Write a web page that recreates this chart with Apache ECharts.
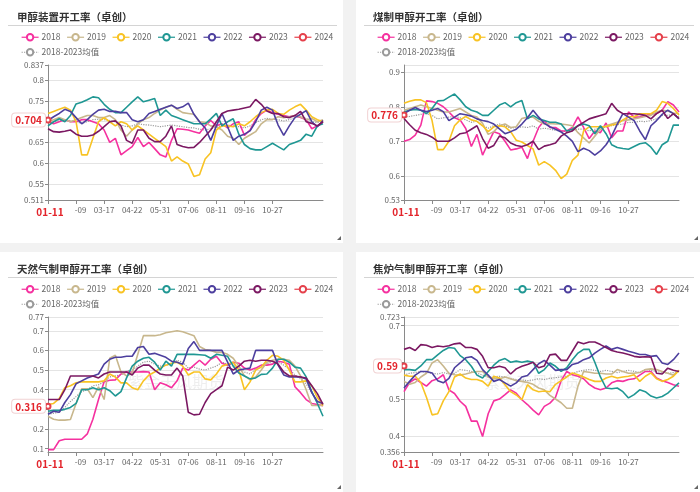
<!DOCTYPE html>
<html><head><meta charset="utf-8">
<script src="https://cdn.jsdelivr.net/npm/echarts@6/dist/echarts.min.js"></script>
<style>
html,body{margin:0;padding:0;background:#f2f2f2;width:700px;height:492px;overflow:hidden}
.card{position:absolute;background:#fff}
.chart{width:100%;height:100%}
.grip{position:absolute;right:2px;bottom:3px;width:0;height:0;border-left:4px solid transparent;border-bottom:4px solid #666}
</style></head><body>
<div class="card" style="left:0;top:0;width:343px;height:243px"><div id="c0" class="chart"></div><div class="grip"></div></div>
<div class="card" style="left:356px;top:0;width:344px;height:243px"><div id="c1" class="chart"></div><div class="grip"></div></div>
<div class="card" style="left:0;top:252px;width:343px;height:240px"><div id="c2" class="chart"></div><div class="grip"></div></div>
<div class="card" style="left:356px;top:252px;width:344px;height:240px"><div id="c3" class="chart"></div><div class="grip"></div></div>
<script>
const categories = ['01-11','01-17','01-22','01-28','02-03','02-09','02-16','02-23','03-02','03-09',
'03-17','03-24','03-31','04-07','04-14','04-22','04-29','05-06','05-13','05-20',
'05-31','06-07','06-14','06-21','06-28','07-06','07-13','07-20','07-27','08-03',
'08-11','08-18','08-25','09-01','09-08','09-16','09-23','09-30','10-13','10-20',
'10-27','11-03','11-10','11-17','11-24','12-01','12-08','12-15','12-22','12-29'];
const shownLabels = ['01-11','02-09','03-17','04-22','05-31','07-06','08-11','09-16','10-27'];
const years = ['2018','2019','2020','2021','2022','2023','2024'];
const avgName = '2018-2023均值';
const titles = ['甲醇装置开工率（卓创）','煤制甲醇开工率（卓创）','天然气制甲醇开工率（卓创）','焦炉气制甲醇开工率（卓创）'];
const yMins = [0.511, 0.53, 0.083, 0.356];
const yMaxs = [0.837, 0.921, 0.77, 0.723];
const latest2024 = [0.704, 0.776, 0.316, 0.59];

// Panel 1: 甲醇装置开工率
const p1_2018 = [.700,.695,.700,.705,.700,.700,.705,.705,.700,.695,
.680,.650,.660,.620,.630,.640,.662,.640,.650,.635,
.620,.615,.655,.683,.682,.680,.676,.672,.690,.703,
.690,.695,.685,.695,.700,.667,.680,.705,.720,.728,
.722,.718,.715,.712,.715,.710,.705,.683,.690,.700];
const p1_2019 = [.700,.705,.710,.705,.700,.705,.710,.715,.715,.710,
.710,.715,.705,.680,.665,.680,.695,.705,.710,.720,
.728,.735,.740,.730,.722,.720,.718,.700,.698,.690,
.688,.680,.665,.660,.645,.660,.668,.676,.695,.705,
.705,.712,.710,.712,.715,.712,.705,.708,.700,.705];
const p1_2020 = [.720,.725,.730,.735,.728,.700,.620,.620,.660,.700,
.710,.700,.690,.700,.695,.680,.690,.680,.670,.660,
.650,.640,.605,.615,.605,.598,.568,.572,.610,.625,
.680,.690,.690,.688,.695,.690,.700,.712,.722,.728,
.730,.720,.718,.728,.736,.742,.728,.712,.705,.700];
const p1_2021 = [.690,.700,.707,.700,.715,.743,.747,.753,.760,.758,
.742,.730,.722,.722,.735,.748,.760,.748,.752,.756,
.715,.728,.715,.710,.705,.700,.695,.695,.695,.707,
.720,.690,.700,.707,.670,.645,.635,.632,.632,.640,
.648,.640,.632,.645,.650,.655,.670,.665,.690,.695];
const p1_2022 = [.703,.712,.720,.730,.725,.710,.695,.705,.718,.728,
.730,.725,.725,.722,.722,.705,.700,.705,.720,.725,
.730,.735,.740,.732,.736,.745,.718,.700,.685,.655,
.690,.720,.688,.655,.665,.670,.678,.700,.728,.735,
.728,.692,.667,.690,.710,.718,.727,.700,.688,.703];
const p1_2023 = [.683,.676,.675,.677,.680,.670,.665,.665,.668,.677,
.688,.700,.702,.690,.655,.648,.680,.680,.660,.652,
.652,.665,.690,.645,.640,.637,.638,.650,.665,.680,
.700,.720,.726,.728,.730,.733,.736,.754,.742,.726,
.720,.720,.712,.710,.715,.725,.700,.696,.690,.700];
const p1_avg = [.698,.700,.703,.705,.703,.700,.696,.700,.705,.706,
.705,.703,.700,.692,.688,.690,.695,.693,.692,.690,
.688,.690,.692,.690,.688,.686,.685,.682,.680,.683,
.688,.690,.692,.690,.688,.685,.690,.698,.705,.708,
.706,.705,.702,.705,.710,.712,.708,.700,.698,.703];

// Panel 2: 煤制甲醇开工率
const p2_2018 = [.700,.705,.718,.747,.817,.815,.810,.800,.785,.768,
.762,.737,.685,.720,.660,.695,.728,.722,.700,.675,
.678,.683,.650,.700,.740,.760,.740,.740,.730,.730,
.740,.771,.740,.708,.730,.725,.753,.710,.730,.730,
.785,.770,.770,.775,.780,.780,.790,.815,.805,.785];
const p2_2019 = [.790,.795,.800,.805,.800,.795,.790,.785,.785,.790,
.795,.785,.775,.770,.752,.720,.728,.745,.750,.740,
.742,.766,.770,.770,.758,.750,.752,.750,.750,.748,
.745,.725,.710,.695,.715,.735,.745,.750,.755,.760,
.762,.765,.768,.772,.775,.785,.790,.788,.782,.780];
const p2_2020 = [.810,.816,.820,.820,.812,.760,.676,.676,.700,.745,
.762,.772,.762,.758,.745,.728,.742,.745,.742,.728,
.703,.698,.688,.678,.631,.641,.631,.616,.592,.605,
.645,.660,.730,.742,.742,.742,.742,.747,.750,.762,
.771,.771,.780,.780,.780,.790,.815,.810,.795,.776];
const p2_2021 = [.785,.790,.792,.790,.780,.795,.817,.818,.828,.837,
.820,.800,.790,.785,.775,.775,.790,.805,.812,.800,
.812,.818,.765,.775,.765,.760,.755,.755,.750,.730,
.735,.745,.750,.745,.722,.745,.722,.690,.682,.679,
.677,.685,.693,.696,.683,.662,.690,.700,.747,.747];
const p2_2022 = [.780,.790,.798,.790,.786,.790,.795,.786,.760,.770,
.780,.777,.773,.765,.760,.757,.750,.736,.722,.728,
.735,.750,.768,.790,.770,.752,.742,.735,.727,.715,
.700,.670,.680,.673,.660,.672,.690,.715,.750,.780,
.770,.760,.730,.705,.745,.760,.778,.790,.780,.765];
const p2_2023 = [.766,.748,.732,.725,.720,.712,.700,.700,.700,.710,
.722,.725,.735,.745,.708,.680,.688,.715,.710,.695,
.688,.685,.690,.700,.676,.686,.690,.695,.715,.725,
.730,.745,.755,.765,.770,.775,.780,.810,.790,.780,
.780,.780,.778,.775,.765,.780,.790,.766,.780,.766];
const p2_avg = [.770,.772,.775,.778,.780,.775,.765,.768,.770,.772,
.768,.762,.755,.758,.745,.738,.745,.750,.745,.738,
.740,.742,.740,.745,.735,.738,.735,.732,.730,.728,
.732,.735,.735,.730,.735,.738,.742,.745,.748,.750,
.755,.755,.758,.757,.760,.765,.775,.775,.778,.772];

// Panel 3: 天然气制甲醇开工率
const p3_2018 = [.095,.095,.140,.148,.148,.148,.148,.175,.250,.350,
.440,.448,.450,.480,.490,.490,.490,.492,.490,.400,
.435,.425,.410,.445,.510,.500,.525,.550,.525,.555,
.570,.535,.525,.540,.535,.510,.500,.510,.525,.525,
.530,.545,.540,.530,.415,.385,.350,.330,.325,.318];
const p3_2019 = [.265,.250,.245,.245,.248,.330,.405,.405,.360,.415,
.350,.560,.575,.490,.470,.485,.580,.675,.675,.675,
.680,.690,.695,.700,.695,.685,.675,.620,.605,.600,
.590,.590,.580,.560,.520,.470,.450,.465,.500,.540,
.550,.555,.555,.550,.520,.470,.400,.320,.320,.320];
const p3_2020 = [.325,.330,.355,.410,.420,.435,.440,.440,.440,.440,
.445,.480,.465,.435,.435,.410,.400,.445,.475,.490,
.510,.525,.535,.540,.520,.475,.490,.490,.455,.450,
.480,.520,.530,.540,.500,.400,.440,.500,.515,.550,
.575,.570,.550,.500,.440,.440,.445,.420,.360,.320];
const p3_2021 = [.290,.295,.295,.300,.310,.330,.400,.400,.410,.400,
.410,.395,.368,.390,.460,.520,.545,.560,.565,.540,
.500,.545,.520,.580,.580,.580,.580,.578,.575,.560,
.580,.575,.570,.520,.485,.470,.455,.460,.478,.480,
.510,.555,.555,.540,.515,.510,.465,.390,.330,.265];
const p3_2022 = [.275,.290,.285,.335,.375,.430,.445,.460,.470,.480,
.530,.555,.565,.565,.570,.570,.615,.620,.580,.585,
.575,.565,.545,.540,.530,.610,.645,.600,.600,.600,
.600,.600,.540,.480,.500,.505,.510,.600,.600,.600,
.600,.525,.475,.465,.465,.465,.455,.385,.340,.330];
const p3_2023 = [.350,.350,.350,.400,.470,.470,.470,.470,.470,.460,
.480,.490,.490,.490,.490,.475,.510,.525,.525,.500,
.480,.475,.475,.510,.470,.285,.272,.275,.335,.380,
.400,.420,.515,.500,.520,.545,.550,.545,.550,.550,
.545,.530,.490,.470,.470,.465,.460,.420,.380,.325];
const p3_avg = [.275,.280,.285,.310,.340,.365,.390,.400,.420,.425,
.440,.465,.470,.475,.495,.500,.520,.540,.545,.530,
.520,.525,.530,.550,.540,.510,.515,.505,.500,.510,
.520,.540,.530,.525,.515,.490,.480,.505,.520,.530,
.545,.540,.525,.505,.475,.455,.430,.385,.340,.320];

// Panel 4: 焦炉气制甲醇开工率
const p4_2018 = [.520,.545,.555,.545,.535,.550,.555,.566,.525,.515,
.494,.480,.440,.440,.398,.460,.495,.500,.512,.525,
.516,.498,.485,.470,.457,.480,.489,.505,.550,.575,
.566,.562,.555,.540,.530,.525,.530,.544,.550,.548,
.553,.555,.565,.575,.575,.557,.550,.545,.539,.535];
const p4_2019 = [.548,.540,.545,.560,.570,.598,.607,.590,.570,.566,
.565,.568,.572,.575,.575,.560,.555,.555,.560,.555,
.550,.548,.545,.540,.530,.525,.510,.500,.490,.475,
.475,.535,.575,.573,.570,.570,.568,.568,.580,.575,
.570,.570,.572,.580,.582,.580,.575,.570,.565,.578];
const p4_2020 = [.565,.562,.562,.545,.505,.457,.460,.495,.520,.560,
.568,.557,.553,.553,.548,.535,.562,.557,.539,.520,
.511,.498,.539,.525,.520,.522,.520,.540,.550,.560,
.571,.566,.560,.553,.548,.548,.557,.562,.557,.560,
.562,.566,.548,.562,.571,.555,.548,.553,.562,.578];
const p4_2021 = [.580,.580,.578,.590,.607,.607,.620,.632,.640,.638,
.618,.607,.589,.565,.557,.575,.592,.605,.610,.600,
.603,.600,.603,.600,.570,.580,.598,.589,.575,.585,
.607,.625,.635,.635,.600,.560,.530,.528,.530,.520,
.503,.512,.525,.520,.508,.503,.507,.516,.530,.544];
const p4_2022 = [.530,.548,.565,.575,.575,.571,.550,.544,.556,.585,
.598,.612,.615,.605,.580,.565,.548,.553,.544,.535,
.544,.560,.564,.580,.596,.605,.592,.578,.580,.580,
.594,.598,.607,.612,.625,.635,.644,.635,.640,.635,
.630,.626,.621,.621,.616,.618,.598,.594,.607,.625];
const p4_2023 = [.635,.640,.632,.648,.646,.640,.644,.642,.645,.650,
.652,.640,.640,.635,.616,.585,.585,.589,.585,.568,
.582,.589,.594,.600,.585,.590,.620,.622,.605,.605,
.630,.655,.650,.655,.655,.648,.640,.632,.628,.625,
.621,.616,.614,.615,.614,.570,.568,.584,.578,.575];
const p4_avg = [.565,.570,.572,.575,.573,.570,.568,.572,.568,.570,
.580,.578,.575,.570,.565,.560,.558,.562,.560,.555,
.553,.552,.550,.552,.555,.553,.556,.558,.560,.562,
.568,.575,.578,.580,.578,.575,.578,.575,.572,.575,
.578,.575,.572,.580,.578,.575,.572,.570,.572,.575];

const panels = [
  [p1_2018,p1_2019,p1_2020,p1_2021,p1_2022,p1_2023,p1_avg],
  [p2_2018,p2_2019,p2_2020,p2_2021,p2_2022,p2_2023,p2_avg],
  [p3_2018,p3_2019,p3_2020,p3_2021,p3_2022,p3_2023,p3_avg],
  [p4_2018,p4_2019,p4_2020,p4_2021,p4_2022,p4_2023,p4_avg]
];

const COLORS = ['#f5319f','#c8b78d','#f8c324','#1f9793','#4d3f9e','#7b1862','#e5404b'];
const AVG_COLOR = '#9a9a9a';
const FONT = '"Noto Sans CJK SC","Noto Sans",sans-serif';
const minLabelFlags = [true, true, false, true];
const maxLabelFlags = [true, false, true, true];
const watermarkOn = [false, false, true, true];

function showIdx(i, v) { return shownLabels.indexOf(categories[i]) >= 0; }

function build(k, el) {
  const chart = echarts.init(el, null, {renderer:'canvas'});
  const W = el.clientWidth;
  const arrs = panels[k];
  const series = [];
  for (let j = 0; j < 6; j++) {
    series.push({
      name: years[j], type: 'line', data: arrs[j],
      symbol: 'emptyCircle', symbolSize: 4, showSymbol: false,
      lineStyle: {width: 1.6, color: COLORS[j]},
      itemStyle: {color: COLORS[j], borderWidth: 1}, emphasis: {disabled: true}
    });
  }
  series.push({
    name: years[6], type: 'line', data: [latest2024[k]],
    symbol: 'emptyCircle', symbolSize: 5, z: 5,
    lineStyle: {width: 1.6, color: COLORS[6]},
    itemStyle: {color: COLORS[6], borderWidth: 3}
  });
  series.push({
    name: avgName, type: 'line', data: arrs[6],
    symbol: 'emptyCircle', symbolSize: 4, showSymbol: false, z: 1,
    lineStyle: {width: 1.2, type: 'dotted', color: AVG_COLOR},
    itemStyle: {color: AVG_COLOR, borderWidth: 1}
  });
  const legendBase = {
    left: 16, itemWidth: 17, itemHeight: 8, itemGap: 6,
    itemStyle: {borderWidth: 1},
    lineStyle: {width: 1.2},
    textStyle: {fontSize: 8.5, color: '#666', fontFamily: FONT, padding: [0,0,0,-2]}
  };
  const graphic = [{
    type: 'line', shape: {x1: 8, y1: 25.5, x2: W - 6, y2: 25.5},
    style: {stroke: '#d4d4d4', lineWidth: 1}, silent: true
  }];
  if (watermarkOn[k]) {
    graphic.push({type:'text', left: 128, top: 122, silent: true, z: 0,
      style: {text: '紫金天风期货', fontSize: 16, fill: 'rgba(120,120,120,0.13)', fontFamily: FONT}});
  }
  const pointerLabel = {
    show: true, color: '#e3242b', fontWeight: 'bold', fontSize: 10, fontFamily: FONT,
    backgroundColor: '#fff'
  };
  chart.setOption({
    animation: false,
    textStyle: {fontFamily: FONT},
    title: {text: titles[k], left: 12, top: 7,
      textStyle: {fontSize: 10.5, fontWeight: 'bold', color: '#333', fontFamily: FONT}},
    graphic: graphic,
    legend: [
      Object.assign({data: years, top: 28}, legendBase),
      Object.assign({data: [avgName], top: 43}, legendBase)
    ],
    grid: {left: 48, top: 65, width: 275, height: 135},
    xAxis: {
      type: 'category', data: categories, boundaryGap: false,
      axisLine: {lineStyle: {color: '#8a8a8a'}},
      axisTick: {interval: showIdx, length: 4, lineStyle: {color: '#8a8a8a'}},
      axisLabel: {interval: showIdx, fontSize: 8, color: '#666', margin: 6},
      splitLine: {show: false},
      axisPointer: {
        show: true, status: 'show', value: 0, type: 'line', triggerTooltip: false,
        lineStyle: {opacity: 0},
        label: Object.assign({padding: [3, 11, 2, 15], margin: 4, borderWidth: 0,
          formatter: p => categories[0]}, pointerLabel)
      }
    },
    yAxis: {
      type: 'value', min: yMins[k], max: yMaxs[k], scale: true,
      axisLine: {show: true, lineStyle: {color: '#8a8a8a'}},
      axisTick: {show: true, length: 3, lineStyle: {color: '#8a8a8a'}},
      axisLabel: {fontSize: 8, color: '#666', margin: 4,
        showMinLabel: minLabelFlags[k], showMaxLabel: maxLabelFlags[k]},
      splitLine: {lineStyle: {color: '#e4e4e4'}},
      axisPointer: {
        show: true, status: 'show', value: latest2024[k], type: 'line', triggerTooltip: false,
        lineStyle: {opacity: 0},
        label: Object.assign({padding: [2, 3, 1, 3], margin: 3,
          borderColor: '#f1d2d3', borderWidth: 1,
          formatter: p => String(latest2024[k])}, pointerLabel)
      }
    },
    series: series
  });
}
['c0','c1','c2','c3'].forEach((id, k) => build(k, document.getElementById(id)));
</script>
</body></html>
